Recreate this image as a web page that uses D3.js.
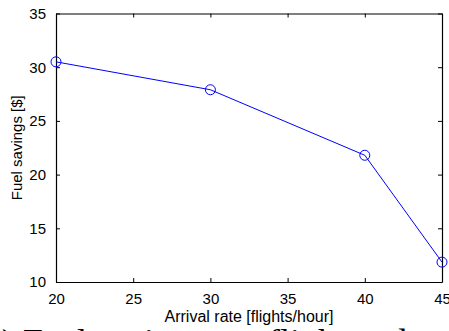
<!DOCTYPE html>
<html>
<head>
<meta charset="utf-8">
<script src="https://cdn.jsdelivr.net/npm/d3@7"></script>
<style>
  html, body { margin: 0; padding: 0; background: #fff; overflow: hidden; }
  svg { display: block; }
</style>
</head>
<body>
<svg id="chart" width="449" height="331"></svg>
<script>
// Fuel savings per flight versus arrival rate
const arrivalRates = [20, 30, 40, 45];
const fuelSavings = [30.5, 27.9, 21.8, 11.85];
const xTicks = [20, 25, 30, 35, 40, 45];
const yTicks = [10, 15, 20, 25, 30, 35];
const xLabel = "Arrival rate [flights/hour]";
const yLabel = "Fuel savings [$]";
const caption = "(a) Fuel savings per flight and arrival rate";

const svg = d3.select("#chart");
const plot = { left: 56, right: 442, top: 13.5, bottom: 282 };

const x = d3.scaleLinear().domain([20, 45]).range([plot.left, plot.right]);
const y = d3.scaleLinear().domain([10, 35]).range([plot.bottom, plot.top]);

const tickFont = "'Liberation Sans', Arial, Helvetica, sans-serif";
const tickLen = 4;

// Axes with inward ticks (bottom/left labelled, top/right mirrored)
const bottomAxis = d3.axisBottom(x).tickValues(xTicks).tickSizeInner(-tickLen).tickSizeOuter(0).tickPadding(11);
const topAxis = d3.axisTop(x).tickValues(xTicks).tickSizeInner(-tickLen).tickSizeOuter(0).tickFormat("");
const leftAxis = d3.axisLeft(y).tickValues(yTicks).tickSizeInner(-tickLen).tickSizeOuter(0).tickPadding(10);
const rightAxis = d3.axisRight(y).tickValues(yTicks).tickSizeInner(-tickLen).tickSizeOuter(0).tickFormat("");

function styleAxis(g) {
  g.select(".domain").attr("stroke", "#000").attr("stroke-width", 1.2);
  g.selectAll(".tick line").attr("stroke", "#000").attr("stroke-width", 1);
  g.selectAll(".tick text")
    .attr("fill", "#000")
    .style("font-family", tickFont)
    .style("font-size", "15px");
}

svg.append("g").attr("transform", `translate(0,${plot.bottom})`).call(bottomAxis).call(styleAxis);
svg.append("g").attr("transform", `translate(0,${plot.top})`).call(topAxis).call(styleAxis);
svg.append("g").attr("transform", `translate(${plot.left},0)`).call(leftAxis).call(styleAxis);
svg.append("g").attr("transform", `translate(${plot.right},0)`).call(rightAxis).call(styleAxis);

// Axis titles
svg.append("text")
  .attr("x", (plot.left + plot.right) / 2)
  .attr("y", 322)
  .attr("text-anchor", "middle")
  .style("font-family", tickFont)
  .style("font-size", "16px")
  .text(xLabel);

svg.append("text")
  .attr("transform", `translate(22,${(plot.top + plot.bottom) / 2}) rotate(-90)`)
  .attr("text-anchor", "middle")
  .style("font-family", tickFont)
  .style("font-size", "15px")
  .text(yLabel);

// Data line and circle markers
const pts = arrivalRates.map((r, i) => [r, fuelSavings[i]]);
const line = d3.line().x(d => x(d[0])).y(d => y(d[1]));

svg.append("path")
  .datum(pts)
  .attr("d", line)
  .attr("fill", "none")
  .attr("stroke", "#0000ff")
  .attr("stroke-width", 1);

svg.selectAll("circle.marker")
  .data(pts)
  .join("circle")
  .attr("class", "marker")
  .attr("cx", d => x(d[0]))
  .attr("cy", d => y(d[1]))
  .attr("r", 5)
  .attr("fill", "none")
  .attr("stroke", "#0000ff")
  .attr("stroke-width", 1);

// Sub-figure caption
svg.append("text")
  .attr("x", -26)
  .attr("y", 354)
  .style("font-family", "'Liberation Serif', 'Times New Roman', serif")
  .style("font-size", "36px")
  .text(caption);
</script>
</body>
</html>
